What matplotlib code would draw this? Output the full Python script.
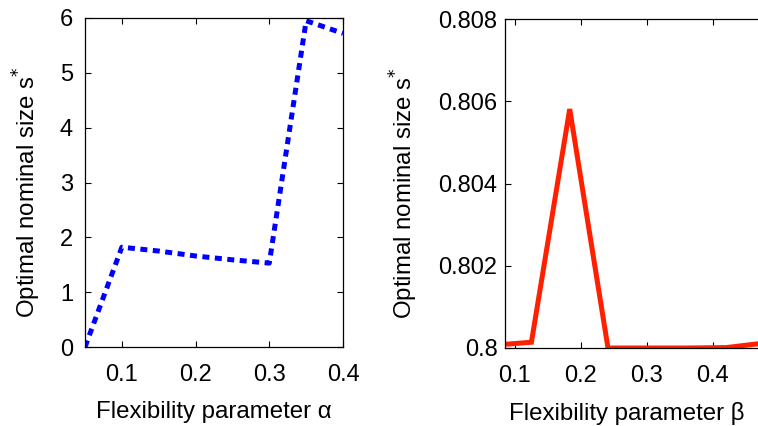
import matplotlib
matplotlib.use("Agg")
import matplotlib.pyplot as plt

# Optimal nominal size versus flexibility parameters
alpha = [0.05, 0.10, 0.15, 0.20, 0.25, 0.30, 0.35, 0.40]
s_alpha = [0.0, 1.82, 1.75, 1.66, 1.59, 1.53, 5.95, 5.72]

beta = [0.065, 0.125, 0.183, 0.241, 0.30, 0.36, 0.42, 0.48]
s_beta = [0.800065, 0.80014, 0.80581, 0.80000, 0.80000, 0.80000, 0.80001, 0.800125]

alpha_ticks = [0.1, 0.2, 0.3, 0.4]
beta_ticks = [0.1, 0.2, 0.3, 0.4]
s_alpha_ticks = [0, 1, 2, 3, 4, 5, 6]
s_beta_ticks = [0.8, 0.802, 0.804, 0.806, 0.808]

plt.rcParams["font.family"] = ["Liberation Sans", "DejaVu Sans"]
plt.rcParams["mathtext.fontset"] = "dejavusans"

W, H = 758, 426
fig = plt.figure(figsize=(W / 100, H / 100), dpi=100)

def px_axes(x0, y0, x1, y1):
    return fig.add_axes([x0 / W, 1 - y1 / H, (x1 - x0) / W, (y1 - y0) / H])

ax1 = px_axes(85, 18, 343, 347)
ax2 = px_axes(505, 19, 779, 348)

LABEL_FS = 17.3

ax1.plot(alpha, s_alpha, color="#0000ff", lw=3.6, linestyle=(0, (1.4, 1.1)),
         dash_capstyle="butt", solid_joinstyle="miter")
ax1.set_xlim(0.05, 0.4)
ax1.set_ylim(0, 6)
ax1.set_xticks(alpha_ticks)
ax1.set_xticklabels([f"{t:g}" for t in alpha_ticks])
ax1.set_yticks(s_alpha_ticks)
ax1.set_xlabel("Flexibility parameter α", fontsize=LABEL_FS)
ax1.xaxis.set_label_coords(0.5, -0.165)
ax1.set_ylabel(r"Optimal nominal size s$^{*}$", fontsize=LABEL_FS)
ax1.yaxis.set_label_coords(-0.163, 0.472)

ax2.plot(beta, s_beta, color="#ff2000", lw=3.6, solid_joinstyle="miter")
ax2.set_xlim(0.085, 0.5)
ax2.set_ylim(0.8, 0.808)
ax2.set_xticks(beta_ticks)
ax2.set_xticklabels([f"{t:g}" for t in beta_ticks])
ax2.set_yticks(s_beta_ticks)
ax2.set_yticklabels(["0.8", "0.802", "0.804", "0.806", "0.808"])
ax2.set_xlabel("Flexibility parameter β", fontsize=LABEL_FS)
ax2.xaxis.set_label_coords(0.445, -0.165)
ax2.set_ylabel(r"Optimal nominal size s$^{*}$", fontsize=LABEL_FS)
ax2.yaxis.set_label_coords(-0.31, 0.472)

for ax, ypad in ((ax1, 8.6), (ax2, 5.4)):
    ax.tick_params(direction="in", top=True, right=True, length=4, width=0.8,
                   labelsize=17)
    ax.tick_params(axis="x", pad=12)
    ax.tick_params(axis="y", pad=ypad)
    for sp in ax.spines.values():
        sp.set_linewidth(0.9)
    ax.spines["bottom"].set_zorder(3)

fig.savefig("out.png", dpi=100)
